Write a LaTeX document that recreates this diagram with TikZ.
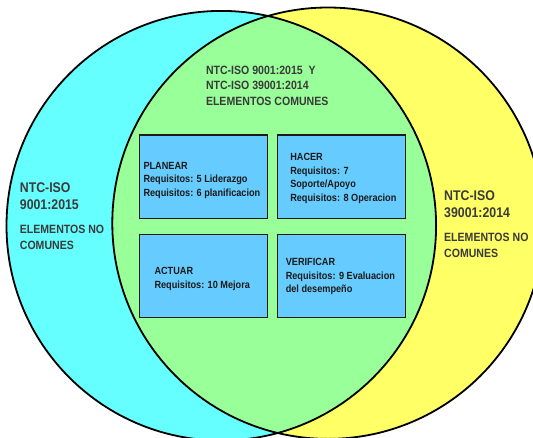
\documentclass[tikz,border=0pt]{standalone}
\usepackage{fontspec}
\newfontfamily\labfont{Liberation Sans}[FakeStretch=0.88]
\definecolor{cyanfill}{RGB}{102,255,255}
\definecolor{yellowfill}{RGB}{255,255,102}
\definecolor{greenfill}{RGB}{153,255,153}
\definecolor{boxfill}{RGB}{102,204,255}
\definecolor{labtext}{RGB}{58,58,58}
\definecolor{boxtext}{RGB}{26,26,26}
\begin{document}
\begin{tikzpicture}[x=1pt,y=-1pt,
  ring/.style={draw=black,line width=1.8pt},
  stagebox/.style={draw=boxtext,line width=1.4pt,fill=boxfill,minimum width=128pt,minimum height=83.5pt,inner sep=0pt},
  boxlabel/.style={anchor=west,align=left,inner sep=0pt,text=boxtext,font=\labfont\bfseries\fontsize{10.4}{13.5}\selectfont},
  biglabel/.style={anchor=west,align=left,inner sep=0pt,text=labtext,font=\labfont\bfseries\fontsize{14}{17.5}\selectfont},
  smalllabel/.style={anchor=west,align=left,inner sep=0pt,text=labtext,font=\labfont\bfseries\fontsize{12}{15.8}\selectfont}]
\useasboundingbox (0,0) rectangle (533,437);
\begin{scope}
  \clip (0,0) rectangle (533,437);
  % the two sets
  \fill[cyanfill] (221.3,225.7) circle (214.8);
  \fill[yellowfill] (328,223.2) circle (215.7);
  % their intersection
  \begin{scope}
    \clip (221.3,225.7) circle (214.8);
    \fill[greenfill] (328,223.2) circle (215.7);
  \end{scope}
  \draw[ring] (221.3,225.7) circle (214.8);
  \draw[ring] (328,223.2) circle (215.7);
\end{scope}

% common elements
\node[smalllabel] (common) at (205.8,85.7) {NTC-ISO 9001:2015\ \ Y\\NTC-ISO 39001:2014\\ELEMENTOS COMUNES};

% non-common elements, left set
\node[biglabel] (leftname) at (19.7,196.3) {NTC-ISO\\9001:2015};
\node[smalllabel] (leftnote) at (19.7,237) {ELEMENTOS NO\\COMUNES};

% non-common elements, right set
\node[biglabel] (rightname) at (444,204) {NTC-ISO\\39001:2014};
\node[smalllabel] (rightnote) at (444,245.5) {ELEMENTOS NO\\COMUNES};

% PHVA cycle
\node[stagebox] (planear) at (203.5,176.8) {};
\node[stagebox] (hacer) at (341.3,176.8) {};
\node[stagebox] (actuar) at (203.5,276) {};
\node[stagebox] (verificar) at (341.3,276) {};

\node[boxlabel] (planeartxt) at ([xshift=4.5pt,yshift=-3.5pt]planear.west) {PLANEAR\\Requisitos: 5 Liderazgo\\Requisitos: 6 planificacion};
\node[boxlabel] (hacertxt) at ([xshift=13.5pt,yshift=-1.8pt]hacer.west) {HACER\\Requisitos: 7\\Soporte/Apoyo\\Requisitos: 8 Operacion};
\node[boxlabel] (actuartxt) at ([xshift=15.5pt,yshift=-2.8pt]actuar.west) {ACTUAR\\Requisitos: 10 Mejora};
\node[boxlabel] (verificartxt) at ([xshift=9pt,yshift=-0.8pt]verificar.west) {VERIFICAR\\Requisitos: 9 Evaluacion\\del desempeño};
\end{tikzpicture}
\end{document}
